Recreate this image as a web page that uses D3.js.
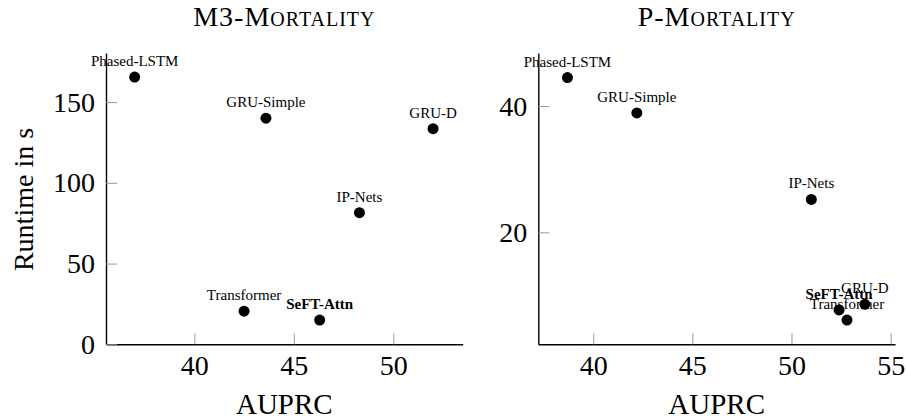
<!DOCTYPE html>
<html>
<head>
<meta charset="utf-8">
<script src="https://cdn.jsdelivr.net/npm/d3@7"></script>
<style>
  body { margin: 0; background: #fff; }
  svg { display: block; }
</style>
</head>
<body>
<script>
// Data
var models = ["Phased-LSTM", "GRU-Simple", "GRU-D", "IP-Nets", "Transformer", "SeFT-Attn"];

var m3Auprc = [37.0, 43.6, 52.0, 48.3, 42.5, 46.3];
var m3Runtime = [165.5, 140.0, 133.5, 81.5, 20.5, 15.0];

var pAuprc = [38.7, 42.2, 53.7, 51.0, 52.8, 52.4];
var pRuntime = [44.5, 38.9, 8.6, 25.2, 6.1, 7.7];

var m3XTicks = [40, 45, 50];
var m3YTicks = [0, 50, 100, 150];
var pXTicks = [40, 45, 50, 55];
var pYTicks = [20, 40];

function init() {
    var w = 907;
    var h = 419;
    var serif = "'Liberation Serif', 'DejaVu Serif', serif";

    var svg = d3.select("body")
        .append("svg")
        .attr("width", w)
        .attr("height", h);

    var panels = [
        {title: "M3-Mortality", auprc: m3Auprc, runtime: m3Runtime,
         xDomain: [35.56, 53.49], yDomain: [0, 180.4],
         xRange: [106, 462.7], xTicks: m3XTicks, yTicks: m3YTicks, ylabel: true},
        {title: "P-Mortality", auprc: pAuprc, runtime: pRuntime,
         xDomain: [37.23, 55.22], yDomain: [2.26, 48.4],
         xRange: [538.3, 895], xTicks: pXTicks, yTicks: pYTicks, ylabel: false}
    ];

    var yRange = [344.3, 53];

    panels.forEach(function(p) {
        var xScale = d3.scaleLinear().domain(p.xDomain).range(p.xRange);
        var yScale = d3.scaleLinear().domain(p.yDomain).range(yRange);

        var g = svg.append("g");

        // x axis (ticks pointing inward)
        var xAxis = g.append("g")
            .attr("transform", "translate(0," + yRange[0] + ")")
            .call(d3.axisBottom(xScale).tickValues(p.xTicks).tickSizeInner(-11).tickSizeOuter(0).tickPadding(11));
        xAxis.select(".domain").attr("stroke", "#000").attr("stroke-width", 1.4);
        xAxis.selectAll(".tick line").attr("stroke", "#999").attr("stroke-width", 1);
        xAxis.selectAll(".tick text")
            .attr("fill", "#000")
            .style("font-family", serif)
            .style("font-size", "28px");

        // y axis
        var yAxis = g.append("g")
            .attr("transform", "translate(" + p.xRange[0] + ",0)")
            .call(d3.axisLeft(yScale).tickValues(p.yTicks).tickSizeInner(-11).tickSizeOuter(0).tickPadding(11));
        yAxis.select(".domain").attr("stroke", "#000").attr("stroke-width", 1.4);
        yAxis.selectAll(".tick line").attr("stroke", "#999").attr("stroke-width", 1);
        yAxis.selectAll(".tick text")
            .attr("fill", "#000")
            .style("font-family", serif)
            .style("font-size", "28px");

        var cx = (p.xRange[0] + p.xRange[1]) / 2;

        // title
        g.append("text")
            .attr("x", cx)
            .attr("y", 26)
            .attr("text-anchor", "middle")
            .style("font-family", serif)
            .style("font-size", "28px")
            .style("font-variant", "small-caps")
            .style("letter-spacing", "1px")
            .text(p.title);

        // x label
        g.append("text")
            .attr("x", cx)
            .attr("y", 414)
            .attr("text-anchor", "middle")
            .style("font-family", serif)
            .style("font-size", "29px")
            .text("AUPRC");

        if (p.ylabel) {
            g.append("text")
                .attr("transform", "translate(33,199.5) rotate(-90)")
                .attr("text-anchor", "middle")
                .style("font-family", serif)
                .style("font-size", "28px")
                .text("Runtime in s");
        }

        // points
        g.selectAll("circle")
            .data(models)
            .enter()
            .append("circle")
            .attr("cx", function(d, i) { return xScale(p.auprc[i]); })
            .attr("cy", function(d, i) { return yScale(p.runtime[i]); })
            .attr("r", 5.5)
            .attr("fill", "#000");

        // labels above points
        g.selectAll("text.lbl")
            .data(models)
            .enter()
            .append("text")
            .attr("class", "lbl")
            .attr("x", function(d, i) { return xScale(p.auprc[i]); })
            .attr("y", function(d, i) { return yScale(p.runtime[i]) - 11; })
            .attr("text-anchor", "middle")
            .style("font-family", serif)
            .style("font-size", "15px")
            .style("font-weight", function(d) { return d === "SeFT-Attn" ? "bold" : "normal"; })
            .text(function(d) { return d; });
    });
}

window.onload = init;
</script>
</body>
</html>
